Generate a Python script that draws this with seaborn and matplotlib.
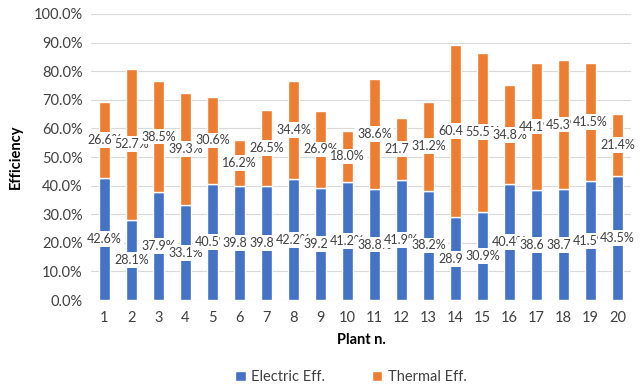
import matplotlib
matplotlib.use("Agg")
import matplotlib.pyplot as plt
import seaborn as sns
import pandas as pd
from matplotlib.ticker import PercentFormatter

plants = [str(i) for i in range(1, 21)]
electric = [42.6, 28.1, 37.9, 33.1, 40.5, 39.8, 39.8, 42.2, 39.2, 41.2,
            38.8, 41.9, 38.2, 28.9, 30.9, 40.4, 38.6, 38.7, 41.5, 43.5]
thermal = [26.6, 52.7, 38.5, 39.3, 30.6, 16.2, 26.5, 34.4, 26.9, 18.0,
           38.6, 21.7, 31.2, 60.4, 55.5, 34.8, 44.1, 45.3, 41.5, 21.4]

df = pd.DataFrame({"plant": plants, "electric": electric, "thermal": thermal})

sns.set_theme(style="white")
plt.rcParams["font.family"] = ["Lato", "DejaVu Sans"]

fig = plt.figure(figsize=(6.42, 3.91), dpi=100)
ax = fig.add_axes([0.1417, 0.2327, 0.8411, 0.7315])

blue = "#4472C4"
orange = "#ED7D31"

sns.barplot(data=df, x="plant", y="electric", color=blue, width=0.42,
            saturation=1, ax=ax, label="Electric Eff.")
sns.barplot(data=df, x="plant", y="thermal", bottom=df["electric"], color=orange,
            width=0.42, saturation=1, ax=ax, label="Thermal Eff.")

# centred value labels on white boxes, like the spreadsheet original
for cont in ax.containers:
    ax.bar_label(cont, labels=[f"{v:.1f}%" for v in cont.datavalues],
                 label_type="center", fontsize=9, color="#404040",
                 bbox=dict(boxstyle="square,pad=0.15", fc="white", ec="none"))

ax.set_ylim(0, 100)
ax.set_xlim(-0.5, 19.5)
ax.set_yticks(range(0, 101, 10))
ax.yaxis.set_major_formatter(PercentFormatter(decimals=1))
ax.yaxis.grid(True, color="#D9D9D9", linewidth=0.8)
ax.set_axisbelow(True)
for s in ax.spines.values():
    s.set_visible(False)
ax.tick_params(axis="both", length=0, labelsize=10.5, colors="#404040")
ax.tick_params(axis="x", pad=8)
ax.tick_params(axis="y", pad=6)

ax.set_xlabel("Plant n.", fontsize=10.5, fontweight="bold", color="black", labelpad=6)
ax.set_ylabel("Efficiency", fontsize=10.5, fontweight="bold", color="black", labelpad=8)

ax.legend(loc="lower center", bbox_to_anchor=(0.547, -0.015), bbox_transform=fig.transFigure,
          ncol=2, frameon=False, fontsize=10.5, handlelength=0.7, handleheight=0.7,
          handletextpad=0.4, columnspacing=3.2, labelcolor="#404040")

fig.savefig("out.png", dpi=100)
